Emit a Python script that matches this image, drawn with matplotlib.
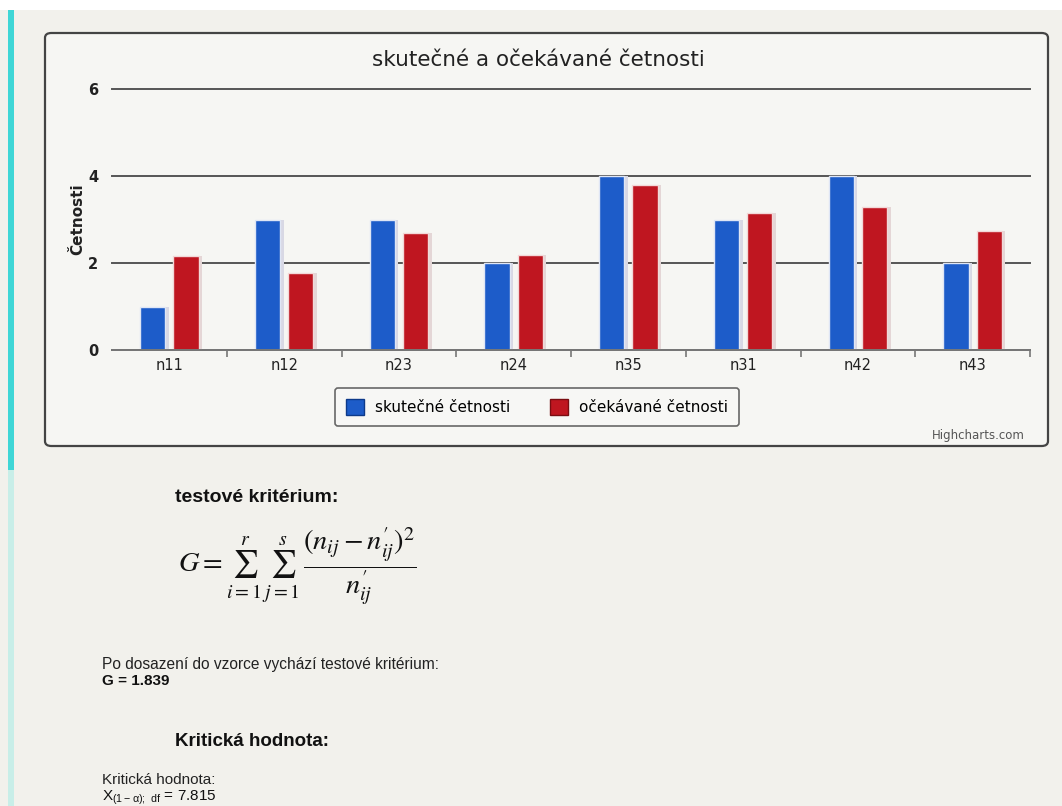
import matplotlib.pyplot as plt
from matplotlib.patches import FancyBboxPatch, Rectangle, Patch
import numpy as np

# data
categories = ['n11', 'n12', 'n23', 'n24', 'n35', 'n31', 'n42', 'n43']
observed = [1, 3, 3, 2, 4, 3, 4, 2]
expected = [2.15, 1.78, 2.69, 2.19, 3.80, 3.16, 3.28, 2.74]
series_names = ['skutečné četnosti', 'očekávané četnosti']
yticks = [0, 2, 4, 6]
G_value = 1.839
crit_value = 7.815

W, H = 1062, 806
page_bg = '#f2f1ec'
blue = '#1d5cc9'
red = '#bf1620'

def fx(x):
    return x / W

def fy(y):
    return 1 - y / H

fig = plt.figure(figsize=(W / 100, H / 100), dpi=100)
fig.patch.set_facecolor(page_bg)

# cyan edge of the screen, white strip on top
fig.patches.append(Rectangle((fx(8), fy(470)), fx(6), fy(10) - fy(470), transform=fig.transFigure,
                             facecolor='#3fd6d6', edgecolor='none', zorder=-3))
fig.patches.append(Rectangle((fx(8), fy(806)), fx(6), fy(470) - fy(806), transform=fig.transFigure,
                             facecolor='#c8eee8', edgecolor='none', zorder=-3))
fig.patches.append(Rectangle((0, fy(10)), 1, fy(0) - fy(10), transform=fig.transFigure,
                             facecolor='white', edgecolor='none', zorder=-3))

# chart container
fig.patches.append(FancyBboxPatch((fx(45), fy(446)), fx(1048) - fx(45), fy(33) - fy(446),
                                  boxstyle='round,pad=0,rounding_size=0.006', transform=fig.transFigure,
                                  facecolor='#f6f6f3', edgecolor='#444444', linewidth=1.6, zorder=-2))

ax = fig.add_axes([fx(112), fy(350), fx(1030) - fx(112), fy(89) - fy(350)])
ax.set_zorder(2)
ax.set_facecolor('none')
x = np.arange(len(categories))
bw = 0.22
off = 0.145
# shadows
ax.bar(x - off + 0.03, observed, bw, color='#d8d8e4', zorder=2)
ax.bar(x + off + 0.03, expected, bw, color='#e4d6d6', zorder=2)
ax.bar(x - off, observed, bw, color=blue, edgecolor='#dfe6f5', linewidth=1.0, zorder=3)
ax.bar(x + off, expected, bw, color=red, edgecolor='#f2d8d8', linewidth=1.0, zorder=3)

ax.set_xlim(-0.5, len(categories) - 0.5)
ax.set_ylim(0, 6)
ax.set_yticks(yticks)
ax.set_yticklabels([str(v) for v in yticks], fontsize=10.5, fontweight='bold', color='#222222')
ax.grid(axis='y', color='#555555', linewidth=1.4, zorder=1)
for gl in ax.get_ygridlines():
    gl.set_clip_on(False)
ax.set_axisbelow(True)
for s in ['top', 'right', 'left']:
    ax.spines[s].set_visible(False)
ax.spines['bottom'].set_color('#777777')
ax.spines['bottom'].set_linewidth(1.4)
ax.spines['bottom'].set_zorder(4)
ax.tick_params(axis='y', length=0, pad=10)
ax.set_xticks(x)
ax.set_xticklabels(categories, fontsize=10.5, color='#222222')
ax.tick_params(axis='x', length=0, pad=6)
ax.set_xticks(np.arange(0.5, len(categories) - 0.5 + 0.01, 1.0), minor=True)
ax.tick_params(axis='x', which='minor', length=5, color='#777777', width=1.2)
ax.set_ylabel('Četnosti', fontsize=11, fontweight='bold', color='#222222', labelpad=2)

fig.text(fx(538), fy(60), 'skutečné a očekávané četnosti', ha='center', va='center',
         fontsize=15.5, color='#222222')

handles = [Patch(facecolor=blue, edgecolor='#0d3a8a'), Patch(facecolor=red, edgecolor='#7a0d12')]
leg = fig.legend(handles, series_names, loc='center', bbox_to_anchor=(fx(537), fy(407)), ncol=2,
                 frameon=True, fancybox=True, fontsize=11, handlelength=1.2, handleheight=1.2,
                 columnspacing=2.6, handletextpad=0.7, borderpad=0.75)
leg.get_frame().set_edgecolor('#444444')
leg.get_frame().set_facecolor('#f8f8f6')
leg.get_frame().set_linewidth(1.2)

fig.text(fx(1025), fy(435), 'Highcharts.com', ha='right', va='center', fontsize=8.5, color='#555555')

# text below the chart
fig.text(fx(175), fy(497), 'testové kritérium:', ha='left', va='center', fontsize=14,
         fontweight='bold', family='Liberation Sans', color='#111111')
fig.text(fx(297), fy(566),
         r'$G=\sum_{i=1}^{r}\,\sum_{j=1}^{s}\,\dfrac{(n_{ij}-n^{\prime}_{ij})^2}{n^{\prime}_{ij}}$',
         ha='center', va='center', fontsize=20.5, math_fontfamily='stix', color='#111111')
fig.text(fx(102), fy(664), 'Po dosazení do vzorce vychází testové kritérium:', ha='left', va='center',
         fontsize=11.2, family='Liberation Sans', color='#222222')
fig.text(fx(102), fy(681), 'G = %.3f' % G_value, ha='left', va='center', fontsize=11,
         fontweight='bold', family='Liberation Sans', color='#111111')
fig.text(fx(175), fy(742), 'Kritická hodnota:', ha='left', va='center', fontsize=13.5,
         fontweight='bold', family='Liberation Sans', color='#111111')
fig.text(fx(102), fy(780), 'Kritická hodnota:', ha='left', va='center', fontsize=11,
         family='Liberation Sans', color='#222222')
fig.text(fx(102), fy(798), r'$\mathregular{X_{(1-\alpha);\ df}}$ = %.3f' % crit_value, ha='left',
         va='center', fontsize=11, family='Liberation Sans', color='#111111')

fig.savefig('out.png', dpi=100, facecolor=fig.get_facecolor())
